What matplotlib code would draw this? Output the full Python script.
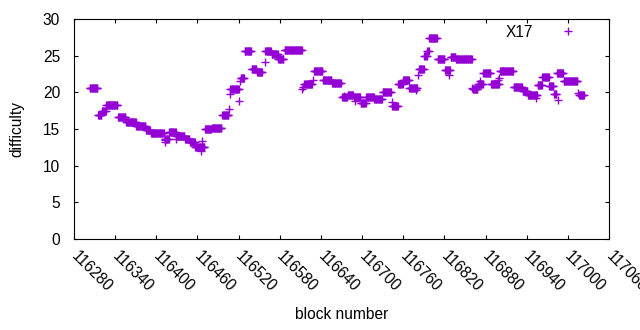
import matplotlib
matplotlib.use("Agg")
import matplotlib.pyplot as plt
import matplotlib.transforms as mtransforms
import numpy as np

# difficulty held over runs of consecutive blocks: (first block, last block, difficulty)
run_start = [116303, 116315, 116321, 116327, 116344, 116356, 116371, 116385, 116392, 116412,
             116419, 116429, 116442, 116449, 116457, 116471, 116481, 116496, 116508, 116523,
             116529, 116539, 116547, 116559, 116568, 116578, 116587, 116616, 116630, 116643,
             116656, 116671, 116679, 116688, 116698, 116706, 116718, 116730, 116744, 116753,
             116760, 116769, 116783, 116791, 116795, 116798, 116810, 116821, 116829, 116837,
             116861, 116869, 116877, 116888, 116901, 116921, 116934, 116942, 116956, 116963,
             116973, 116980, 116984, 116994, 117016]
run_end = [116314, 116320, 116326, 116343, 116355, 116370, 116384, 116391, 116411, 116418,
           116428, 116441, 116448, 116456, 116470, 116480, 116495, 116505, 116520, 116528,
           116538, 116546, 116554, 116567, 116577, 116585, 116612, 116627, 116642, 116655,
           116669, 116678, 116687, 116697, 116705, 116717, 116729, 116742, 116752, 116759,
           116768, 116780, 116790, 116794, 116797, 116809, 116820, 116828, 116836, 116860,
           116868, 116876, 116887, 116899, 116920, 116933, 116941, 116955, 116962, 116972,
           116979, 116983, 116993, 117014, 117023]
run_diff = [20.6, 16.9, 17.5, 18.3, 16.6, 15.9, 15.4, 14.8, 14.4, 13.7,
            14.6, 14.1, 13.7, 13.2, 12.6, 15.0, 15.2, 16.9, 20.4, 21.9,
            25.6, 23.2, 22.8, 25.7, 25.2, 24.6, 25.8, 21.1, 22.9, 21.7,
            21.3, 19.3, 19.6, 19.4, 18.6, 19.3, 19.1, 20.0, 18.1, 21.2,
            21.7, 20.6, 23.2, 25.0, 25.7, 27.4, 24.5, 23.1, 24.8, 24.5,
            20.5, 21.1, 22.6, 21.1, 22.9, 20.7, 20.2, 19.7, 21.0, 22.1,
            20.8, 19.8, 22.6, 21.6, 19.6]

# isolated blocks
single_block = [116412, 116413, 116429, 116465, 116467, 116506, 116507, 116521, 116522,
                116558, 116613, 116614, 116628, 116673, 116689, 116743, 116778, 116782,
                116826, 116860, 116872, 116898, 116900, 116953, 116985, 117015]
single_diff = [13.2, 13.5, 13.6, 12.0, 13.3, 17.7, 19.8, 18.8, 21.5,
               24.1, 20.4, 20.7, 21.7, 19.5, 18.8, 18.7, 20.3, 22.3,
               22.4, 20.6, 21.5, 21.7, 22.0, 19.2, 19.0, 19.9]

x_ticks = list(range(116280, 117061, 60))
y_ticks = [0, 5, 10, 15, 20, 25, 30]

blocks = np.concatenate([np.arange(s, e + 1) for s, e in zip(run_start, run_end)] + [single_block])
diffs = np.concatenate([np.full(e - s + 1, d) for s, e, d in zip(run_start, run_end, run_diff)] + [single_diff])

plt.rcParams["font.family"] = ["Liberation Sans", "DejaVu Sans"]
plt.rcParams["font.size"] = 11.2

fig = plt.figure(figsize=(6.4, 3.3), dpi=100)
ax = fig.add_axes([74 / 640, 1 - 239 / 330, 535 / 640, 220 / 330])

ax.plot(blocks, diffs, linestyle="none", marker="+", markersize=5.2,
        markeredgewidth=1.0, color="#9400D3", label="X17")

ax.set_xlim(116280, 117060)
ax.set_ylim(0, 30)
ax.set_xticks(x_ticks)
ax.set_yticks(y_ticks)
ax.tick_params(direction="in", top=True, right=True, length=3, width=0.8)
ax.tick_params(axis="y", pad=10)
ax.tick_params(axis="x", pad=7)
# rotated labels hang from the tick, nudged a few pixels right like gnuplot
shift = mtransforms.ScaledTranslation(5 / 100, 0, fig.dpi_scale_trans)
for lbl in ax.get_xticklabels():
    lbl.set_rotation(-45)
    lbl.set_ha("left")
    lbl.set_rotation_mode("anchor")
    lbl.set_transform(lbl.get_transform() + shift)
for s in ax.spines.values():
    s.set_linewidth(0.8)

ax.set_xlabel("block number")
ax.set_ylabel("difficulty")
ax.xaxis.set_label_coords(0.5, -0.308)
ax.yaxis.set_label_coords(-0.092, 0.5)

ax.legend(loc="center right", bbox_to_anchor=(0.960, 0.9395), frameon=False,
          markerfirst=False, numpoints=1, borderpad=0, borderaxespad=0,
          handlelength=2.58, handletextpad=0.95)

fig.savefig("out.png", dpi=100)
